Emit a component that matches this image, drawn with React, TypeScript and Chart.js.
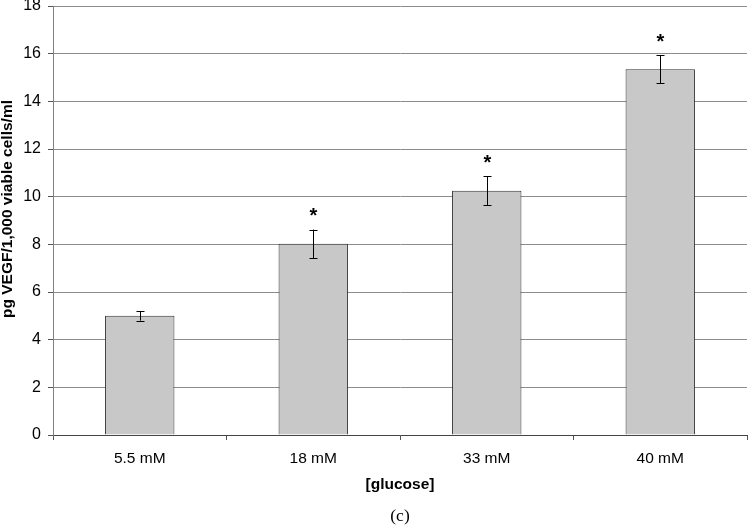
import React, { useEffect, useRef } from "react";
import { Chart, registerables } from "chart.js";

Chart.register(...registerables);

const categories = ["5.5 mM", "18 mM", "33 mM", "40 mM"];
const values = [5.0, 8.02, 10.25, 15.35];
const errors = [0.2, 0.6, 0.6, 0.58];
const significant = [false, true, true, true];
const yTicks = [0, 2, 4, 6, 8, 10, 12, 14, 16, 18];
const yTitle = "pg VEGF/1,000 viable cells/ml";
const xTitle = "[glucose]";
const caption = "(c)";

const FONT = "'Liberation Sans', Arial, sans-serif";

export default function App() {
  const ref = useRef<HTMLCanvasElement | null>(null);

  useEffect(() => {
    document.body.style.margin = "0";
    const canvas = ref.current;
    if (!canvas) return;

    const overlay = {
      id: "overlay",
      afterDatasetsDraw(chart: any) {
        const ctx = chart.ctx;
        const x = chart.scales.x;
        const y = chart.scales.y;
        ctx.save();
        ctx.strokeStyle = "#000";
        ctx.lineWidth = 1;
        values.forEach((v, i) => {
          const cx = Math.round(x.getPixelForValue(i)) + 0.5;
          const top = y.getPixelForValue(v + errors[i]);
          const bot = y.getPixelForValue(v - errors[i]);
          ctx.beginPath();
          ctx.moveTo(cx, top);
          ctx.lineTo(cx, bot);
          ctx.moveTo(cx - 4, Math.round(top) + 0.5);
          ctx.lineTo(cx + 4, Math.round(top) + 0.5);
          ctx.moveTo(cx - 4, Math.round(bot) + 0.5);
          ctx.lineTo(cx + 4, Math.round(bot) + 0.5);
          ctx.stroke();
          if (significant[i]) {
            ctx.fillStyle = "#000";
            ctx.font = `bold 20px ${FONT}`;
            ctx.textAlign = "center";
            ctx.textBaseline = "alphabetic";
            ctx.fillText("*", cx, top - 19 + 11.5);
          }
        });
        ctx.restore();
      },
      afterDraw(chart: any) {
        const ctx = chart.ctx;
        const area = chart.chartArea;
        ctx.save();
        ctx.fillStyle = "#000";
        ctx.textAlign = "center";
        ctx.textBaseline = "middle";
        ctx.font = `bold 15.5px ${FONT}`;
        ctx.fillText(xTitle, (area.left + area.right) / 2, 485);
        ctx.save();
        ctx.translate(8, 209);
        ctx.rotate(-Math.PI / 2);
        ctx.fillText(yTitle, 0, 0);
        ctx.restore();
        ctx.font = "17.5px 'Liberation Serif', 'Times New Roman', serif";
        ctx.fillText(caption, (area.left + area.right) / 2, 516);
        ctx.restore();
      },
    };

    const chart = new Chart(canvas, {
      type: "bar",
      data: {
        labels: categories,
        datasets: [
          {
            data: values,
            backgroundColor: "#c8c8c8",
            borderColor: "#333333",
            borderWidth: 1,
            barPercentage: 0.4,
            categoryPercentage: 1,
          },
        ],
      },
      options: {
        responsive: false,
        animation: false,
        devicePixelRatio: 1,
        layout: { padding: { top: 6, right: 1, left: 0, bottom: 0 } },
        plugins: {
          legend: { display: false },
          tooltip: { enabled: false },
        },
        scales: {
          x: {
            grid: {
              offset: true,
              drawOnChartArea: false,
              drawTicks: true,
              tickLength: 5,
              color: "#555",
            },
            border: { color: "#444", width: 1 },
            ticks: {
              color: "#000",
              font: { family: FONT, size: 15.5 },
              padding: 9,
              maxRotation: 0,
            },
            afterFit(s: any) {
              s.height = 91;
              s.paddingLeft = 0;
              s.paddingRight = 0;
            },
          },
          y: {
            min: 0,
            max: 18,
            afterBuildTicks(s: any) {
              s.ticks = yTicks.map((v) => ({ value: v }));
            },
            grid: {
              color: "#8c8c8c",
              tickLength: 5,
              tickColor: "#555",
            },
            border: { color: "#808080", width: 1 },
            ticks: {
              color: "#000",
              font: { family: FONT, size: 16 },
              padding: 7,
            },
            afterFit(s: any) {
              s.width = 53;
              s.paddingTop = 0;
              s.paddingBottom = 0;
            },
          },
        },
      },
      plugins: [overlay],
    });
    return () => chart.destroy();
  }, []);

  return (
    <div style={{ position: "absolute", left: 0, top: 0 }}>
      <canvas ref={ref} width={748} height={526} style={{ display: "block" }} />
    </div>
  );
}
